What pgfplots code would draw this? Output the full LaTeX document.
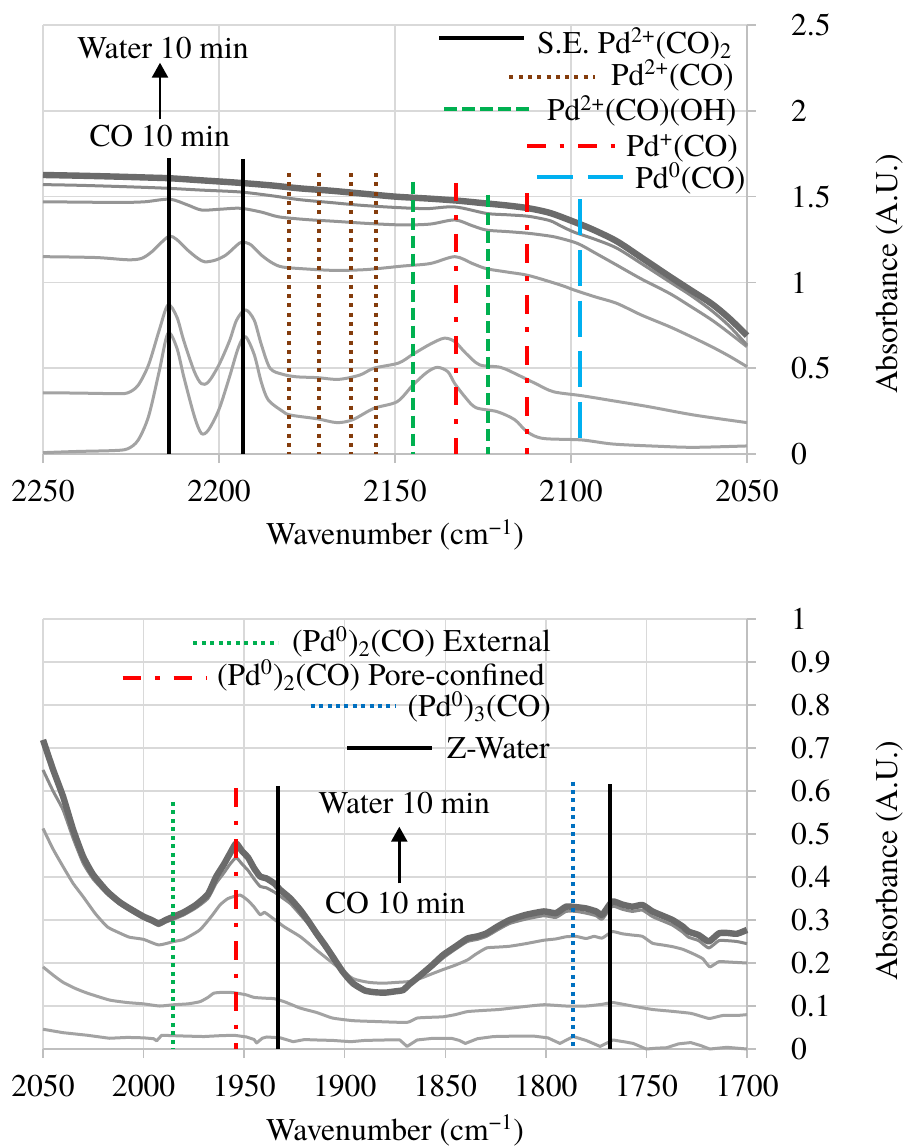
\documentclass[border=0pt]{standalone}
\usepackage{fontspec}
\IfFontExistsTF{TeX Gyre Termes}{\setmainfont{TeX Gyre Termes}}{\setmainfont{Latin Modern Roman}}
\usepackage{pgfplots}
\pgfplotsset{compat=1.18}
\usetikzlibrary{arrows.meta}
\definecolor{gridc}{HTML}{D9D9D9}
\definecolor{axc}{HTML}{BFBFBF}
\definecolor{brownc}{HTML}{843C0C}
\definecolor{greenc}{HTML}{00B050}
\definecolor{redc}{HTML}{FF0000}
\definecolor{lblue}{HTML}{00B0F0}
\definecolor{dblue}{HTML}{0070C0}
\definecolor{gA}{HTML}{6B6B6B}
\definecolor{gB}{HTML}{8A8A8A}
\definecolor{gC}{HTML}{959595}
\definecolor{gD}{HTML}{9E9E9E}
\definecolor{gE}{HTML}{A3A3A3}
\newcommand{\fs}{\rmfamily\fontsize{15.8}{19}\selectfont}
\pgfplotsset{
  spec/.style={
    scale only axis, width=352pt,
    x dir=reverse,
    axis x line=bottom, axis y line=right,
    axis line style={draw=axc, line width=0.75pt, -},
    grid=major, grid style={draw=gridc, line width=0.75pt},
    tick style={draw=axc, line width=0.75pt},
    tick align=outside, major tick length=4.5pt,
    /pgf/number format/assume math mode=true,
    /pgf/number format/set thousands separator={},
    ticklabel style={font=\fs},
    yticklabel style={anchor=west, xshift=14pt},
    xticklabel style={yshift=-5pt},
    label style={font=\fs},
    clip=false,
  },
  crv/.style={line width=1.5pt, no markers, line join=round},
  vblack/.style={draw=black, line width=2pt, no markers},
  vbrown/.style={draw=brownc, line width=2pt, dash pattern=on 2pt off 2.65pt, no markers},
  vgreen/.style={draw=greenc, line width=2pt, dash pattern=on 6.3pt off 2.7pt, no markers},
  vred/.style={draw=redc, line width=2pt, dash pattern=on 9.2pt off 6.9pt on 2.3pt off 7.1pt, no markers},
  vlblue/.style={draw=lblue, line width=2pt, dash pattern=on 18pt off 7.3pt, no markers},
  vgdot/.style={draw=greenc, line width=2pt, dash pattern=on 2pt off 2.25pt, no markers},
  vbdot/.style={draw=dblue, line width=2pt, dash pattern=on 2pt off 2.2pt, no markers},
}
\begin{document}
\begin{tikzpicture}
\useasboundingbox (0,0) rectangle (454pt,-573.5pt);
% ---------------- top panel ----------------
\begin{axis}[spec, at={(21.5pt,-227pt)}, anchor=south west, height=214.5pt,
  xmin=2050, xmax=2250, ymin=0, ymax=2.5,
  xtick={2050,2100,2150,2200,2250}, ytick={0,0.5,1,1.5,2,2.5},
  xlabel={Wavenumber (cm\textsuperscript{−1})},
  xlabel style={at={(axis description cs:0.5,-0.2121)}, anchor=base},
  ylabel={Absorbance (A.U.)},
  ylabel style={at={(axis description cs:1.2031,0.4196)}, anchor=center, rotate=0},
]
\addplot[crv, smooth, draw=gE] coordinates {(2250,0.008) (2240,0.015) (2230,0.020) (2226,0.030) (2223,0.080) (2220,0.220) (2217,0.480) (2214.5,0.703) (2212,0.620) (2210,0.450) (2207,0.220) (2205,0.120) (2203,0.140) (2200,0.260) (2197,0.450) (2194.5,0.620) (2192.5,0.684) (2190,0.580) (2188,0.420) (2186,0.315) (2182,0.250) (2179.7,0.227) (2172,0.205) (2166.5,0.183) (2162,0.200) (2156,0.266) (2149.4,0.305) (2145,0.400) (2141,0.475) (2138,0.505) (2135,0.480) (2133,0.410) (2130,0.330) (2127,0.270) (2121,0.247) (2116,0.200) (2112.5,0.130) (2108,0.091) (2097,0.082) (2088,0.058) (2075,0.045) (2065,0.039) (2050,0.047)};
\addplot[crv, smooth, draw=gE] coordinates {(2250,0.357) (2240,0.355) (2230,0.352) (2226,0.356) (2223,0.400) (2220,0.520) (2217,0.720) (2214.5,0.868) (2212,0.800) (2210,0.660) (2207,0.480) (2205,0.410) (2203,0.420) (2200,0.520) (2197,0.660) (2195,0.780) (2192.5,0.840) (2190,0.780) (2188,0.640) (2185.5,0.500) (2182,0.465) (2178,0.450) (2172,0.445) (2166,0.435) (2160,0.460) (2156,0.500) (2149,0.530) (2145,0.580) (2140,0.640) (2136,0.675) (2133,0.655) (2130,0.590) (2126,0.520) (2120,0.505) (2115,0.460) (2110,0.410) (2105,0.363) (2097,0.340) (2088,0.310) (2078,0.276) (2065,0.227) (2050,0.183)};
\addplot[crv, smooth, draw=gD] coordinates {(2250,1.150) (2235,1.145) (2226,1.132) (2222,1.140) (2219,1.180) (2216,1.240) (2214,1.270) (2212,1.250) (2209,1.190) (2206,1.140) (2204,1.120) (2201,1.130) (2198,1.160) (2195,1.215) (2193.5,1.235) (2191,1.220) (2188,1.160) (2185,1.115) (2182,1.090) (2175,1.078) (2167,1.070) (2158,1.075) (2148,1.095) (2140,1.110) (2133,1.150) (2128,1.110) (2124,1.080) (2118,1.060) (2112,1.040) (2103,0.985) (2099,0.955) (2093,0.915) (2087,0.878) (2080,0.810) (2072,0.742) (2066,0.685) (2060,0.625) (2055,0.570) (2050,0.509)};
\addplot[crv, smooth, draw=gC] coordinates {(2250,1.470) (2240,1.468) (2228,1.466) (2221,1.470) (2214,1.485) (2209,1.452) (2205,1.422) (2200,1.426) (2194,1.432) (2188,1.410) (2183,1.382) (2175,1.366) (2167,1.356) (2158,1.344) (2148,1.335) (2140,1.340) (2133,1.364) (2128,1.330) (2124,1.305) (2118,1.296) (2112,1.286) (2106,1.270) (2103,1.257) (2098,1.226) (2093,1.170) (2087,1.101) (2080,1.020) (2072,0.936) (2066,0.860) (2060,0.781) (2055,0.705) (2050,0.625)};
\addplot[crv, smooth, draw=gB] coordinates {(2250,1.570) (2240,1.566) (2230,1.560) (2220,1.553) (2214,1.548) (2205,1.538) (2194,1.527) (2185,1.505) (2177,1.482) (2168,1.465) (2160,1.450) (2150,1.437) (2141,1.430) (2133,1.440) (2124,1.402) (2118,1.394) (2112,1.385) (2106,1.360) (2103,1.330) (2099,1.292) (2093,1.250) (2087,1.200) (2080,1.110) (2072,1.004) (2066,0.925) (2060,0.835) (2055,0.745) (2050,0.635)};
\addplot[crv, smooth, draw=gA, line width=3.2pt] coordinates {(2250,1.626) (2240,1.622) (2230,1.617) (2220,1.611) (2214,1.607) (2205,1.595) (2194,1.580) (2185,1.565) (2177,1.548) (2168,1.534) (2160,1.519) (2150,1.500) (2140,1.488) (2132,1.476) (2125,1.462) (2118,1.448) (2112,1.432) (2106,1.405) (2100,1.360) (2094,1.310) (2087,1.240) (2080,1.145) (2072,1.035) (2066,0.955) (2060,0.875) (2055,0.790) (2050,0.690)};
% reference lines
\addplot[vblack] coordinates {(2214.1,1.725) (2214.1,0)};
\addplot[vblack] coordinates {(2193.3,1.72) (2193.3,0)};
\addplot[vbrown] coordinates {(2180,1.637) (2180,0)};
\addplot[vbrown] coordinates {(2171.5,1.637) (2171.5,0)};
\addplot[vbrown] coordinates {(2162.6,1.637) (2162.6,0)};
\addplot[vbrown] coordinates {(2155.3,1.637) (2155.3,0)};
\addplot[vgreen] coordinates {(2144.9,1.587) (2144.9,0)};
\addplot[vgreen] coordinates {(2123.7,1.51) (2123.7,0)};
\addplot[vred] coordinates {(2132.8,1.58) (2132.8,0)};
\addplot[vred] coordinates {(2112.4,1.52) (2112.4,0)};
\addplot[vlblue] coordinates {(2097.4,1.484) (2097.4,0.08)};
\end{axis}
% ---------------- bottom panel ----------------
\begin{axis}[spec, at={(21.5pt,-524.5pt)}, anchor=south west, height=215pt,
  xmin=1700, xmax=2050, ymin=0, ymax=1,
  xtick={1700,1750,1800,1850,1900,1950,2000,2050},
  ytick={0,0.1,0.2,0.3,0.4,0.5,0.6,0.7,0.8,0.9,1},
  xlabel={Wavenumber (cm\textsuperscript{−1})},
  xlabel style={at={(axis description cs:0.5,-0.2116)}, anchor=base},
  ylabel={Absorbance (A.U.)},
  ylabel style={at={(axis description cs:1.2031,0.4372)}, anchor=center, rotate=0},
]
\addplot[crv, draw=gE] coordinates {(2050,0.046) (2040,0.038) (2028,0.032) (2017,0.025) (2008,0.027) (2000,0.026) (1995,0.024) (1993.5,0.019) (1991,0.032) (1985,0.031) (1978.6,0.030) (1970,0.029) (1962,0.031) (1955,0.032) (1948.8,0.028) (1945,0.022) (1943.8,0.014) (1941,0.025) (1938.8,0.028) (1932,0.026) (1925.6,0.017) (1920,0.022) (1914,0.021) (1906,0.020) (1897,0.017) (1890,0.020) (1880,0.021) (1872.6,0.021) (1869,0.006) (1864,0.021) (1856,0.025) (1847,0.025) (1843,0.020) (1840,0.013) (1834,0.024) (1826,0.029) (1815,0.030) (1806,0.030) (1799,0.026) (1793,0.013) (1786.4,0.029) (1780,0.020) (1773,0.006) (1766.6,0.021) (1760,0.016) (1756.6,0.013) (1750,0.000) (1745,0.002) (1740,0.003) (1734,0.012) (1728,0.015) (1723,0.008) (1718.5,0.000) (1710,0.004) (1705,0.002) (1700,0.000)};
\addplot[crv, smooth, tension=0.3, draw=gE] coordinates {(2050,0.191) (2045,0.172) (2040,0.155) (2034,0.141) (2028,0.130) (2017,0.114) (2008,0.108) (2000,0.105) (1992,0.100) (1985,0.103) (1978,0.105) (1972,0.110) (1968,0.120) (1965,0.130) (1960,0.132) (1955,0.131) (1949,0.126) (1945,0.120) (1939,0.118) (1935,0.117) (1930,0.110) (1922,0.095) (1914,0.085) (1906,0.072) (1896,0.066) (1885,0.064) (1869,0.062) (1864,0.072) (1856,0.074) (1851,0.075) (1845,0.080) (1839,0.087) (1830,0.090) (1823,0.092) (1812,0.098) (1801,0.103) (1790,0.100) (1780,0.100) (1772,0.104) (1766.6,0.108) (1757,0.100) (1747,0.092) (1738,0.088) (1728,0.083) (1722,0.075) (1718.5,0.071) (1712,0.078) (1705,0.078) (1700,0.080)};
\addplot[crv, smooth, tension=0.3, draw=gD] coordinates {(2050,0.513) (2045,0.465) (2040,0.424) (2035,0.385) (2030,0.354) (2024,0.315) (2018,0.284) (2012,0.270) (2007,0.260) (2000,0.255) (1992.5,0.242) (1985,0.250) (1980,0.255) (1972,0.277) (1966,0.310) (1962,0.335) (1958,0.350) (1952,0.358) (1948,0.345) (1945,0.330) (1942,0.312) (1940,0.318) (1938,0.312) (1934,0.298) (1930,0.284) (1922,0.261) (1914,0.230) (1906,0.200) (1896,0.164) (1888,0.155) (1881,0.153) (1874,0.155) (1868,0.157) (1862,0.165) (1856,0.176) (1851,0.185) (1845,0.195) (1839,0.207) (1835,0.220) (1829.5,0.235) (1824,0.237) (1818,0.239) (1810,0.245) (1801,0.253) (1795,0.256) (1790,0.261) (1785,0.262) (1780,0.257) (1776,0.262) (1772,0.258) (1767,0.273) (1762,0.268) (1757,0.265) (1752,0.262) (1747,0.246) (1742,0.242) (1737,0.238) (1732,0.232) (1727,0.222) (1722,0.210) (1718.5,0.191) (1714,0.203) (1708,0.202) (1700,0.200)};
\addplot[crv, smooth, tension=0.3, draw=gB] coordinates {(2050,0.649) (2045,0.600) (2040,0.556) (2035,0.490) (2030,0.432) (2025,0.395) (2018,0.360) (2012,0.337) (2007,0.322) (2000,0.303) (1996,0.295) (1992.5,0.287) (1989,0.295) (1985,0.302) (1980,0.312) (1974,0.328) (1968,0.350) (1964,0.385) (1960,0.410) (1957,0.430) (1954,0.445) (1951,0.430) (1948,0.415) (1945,0.395) (1942,0.378) (1939,0.375) (1935,0.365) (1932,0.355) (1927,0.338) (1922,0.312) (1918,0.290) (1914,0.262) (1910,0.237) (1906,0.210) (1901,0.176) (1896,0.150) (1890,0.134) (1885,0.130) (1880,0.129) (1875,0.132) (1871,0.135) (1868,0.148) (1864,0.162) (1857,0.188) (1851,0.212) (1845,0.232) (1839,0.250) (1834,0.255) (1829.5,0.262) (1824,0.277) (1818,0.292) (1810,0.302) (1801,0.310) (1795,0.306) (1790,0.320) (1785,0.320) (1780,0.316) (1775,0.310) (1772,0.302) (1767,0.332) (1762,0.325) (1757,0.320) (1752,0.323) (1747,0.308) (1742,0.298) (1737,0.288) (1732,0.272) (1729,0.260) (1724,0.252) (1719,0.235) (1714,0.252) (1710,0.252) (1705,0.250) (1700,0.245)};
\addplot[crv, smooth, tension=0.3, draw=gA, line width=3.2pt] coordinates {(2050,0.719) (2045,0.650) (2040,0.587) (2035,0.510) (2030,0.447) (2025,0.405) (2018,0.366) (2012,0.342) (2007,0.327) (2000,0.308) (1996,0.300) (1992.5,0.292) (1989,0.300) (1985,0.308) (1980,0.318) (1974,0.335) (1968,0.360) (1964,0.400) (1960,0.430) (1957,0.455) (1954,0.478) (1951,0.460) (1948,0.445) (1945,0.420) (1942,0.401) (1939,0.397) (1935,0.385) (1932,0.370) (1927,0.350) (1922,0.323) (1918,0.297) (1914,0.269) (1910,0.243) (1906,0.215) (1901,0.180) (1896,0.153) (1890,0.136) (1885,0.132) (1880,0.131) (1875,0.134) (1871,0.137) (1868,0.150) (1864,0.165) (1857,0.193) (1851,0.219) (1845,0.238) (1839,0.257) (1834,0.262) (1829.5,0.269) (1824,0.285) (1818,0.300) (1810,0.312) (1801,0.320) (1795,0.316) (1790,0.331) (1785,0.330) (1780,0.327) (1775,0.320) (1772,0.312) (1767,0.343) (1762,0.336) (1757,0.331) (1752,0.335) (1747,0.320) (1742,0.310) (1737,0.300) (1732,0.285) (1729,0.273) (1724,0.265) (1719,0.250) (1714,0.269) (1710,0.270) (1705,0.268) (1700,0.277)};
% reference lines
\addplot[vgdot] coordinates {(1985.5,0.575) (1985.5,0)};
\addplot[vred] coordinates {(1954.1,0.606) (1954.1,0)};
\addplot[vblack] coordinates {(1933.4,0.612) (1933.4,0)};
\addplot[vbdot] coordinates {(1786.4,0.622) (1786.4,0)};
\addplot[vblack] coordinates {(1768.2,0.616) (1768.2,0)};
\end{axis}
% ---------------- legends and annotations (pixel frame) ----------------
\begin{scope}[x=0.5pt, y=-0.5pt, every node/.style={font=\fs, inner sep=0pt, anchor=base west}]
  % top legend
  \draw[black, line width=2pt] (439,38.3) -- (524,38.3);
  \node at (536.7,53.3) {S.E. Pd\textsuperscript{2+}(CO)\textsubscript{2}};
  \draw[brownc, line width=2pt, dash pattern=on 2pt off 2.65pt] (509.3,76.7) -- (595,76.7);
  \node at (610.7,85) {Pd\textsuperscript{2+}(CO)};
  \draw[greenc, line width=2pt, dash pattern=on 6.3pt off 2.7pt] (444.3,109) -- (529.3,109);
  \node at (546.7,120.7) {Pd\textsuperscript{2+}(CO)(OH)};
  \draw[redc, line width=2pt, dash pattern=on 9.2pt off 6.9pt on 2.3pt off 7.1pt] (527.3,145.7) -- (616,145.7);
  \node at (626,156) {Pd\textsuperscript{+}(CO)};
  \draw[lblue, line width=2pt, dash pattern=on 18pt off 7.3pt] (537.3,176.7) -- (622.7,176.7);
  \node at (635,188.3) {Pd\textsuperscript{0}(CO)};
  % top annotation
  \node at (77,58.3) {Water 10 min};
  \draw[black, line width=1.3pt, -{Triangle[width=8pt,length=7.5pt]}] (160,119.3) -- (160,62.7);
  \node at (89.3,146.7) {CO 10 min};
  % bottom legend
  \draw[greenc, line width=2pt, dash pattern=on 2pt off 2.25pt] (193.3,643.3) -- (278.3,643.3);
  \node at (291.7,651.7) {(Pd\textsuperscript{0})\textsubscript{2}(CO) External};
  \draw[redc, line width=2pt, dash pattern=on 9.2pt off 6.9pt on 2.3pt off 7.1pt] (122.7,677.7) -- (207.3,677.7);
  \node at (216.7,685) {(Pd\textsuperscript{0})\textsubscript{2}(CO) Pore-confined};
  \draw[dblue, line width=2pt, dash pattern=on 2pt off 2.2pt] (310.7,706) -- (395,706);
  \node at (407.3,716.7) {(Pd\textsuperscript{0})\textsubscript{3}(CO)};
  \draw[black, line width=2pt] (347.3,747.7) -- (432.3,747.7);
  \node at (446.7,758.3) {Z-Water};
  % bottom annotation
  \node at (318.3,813.3) {Water 10 min};
  \draw[black, line width=1.3pt, -{Triangle[width=8pt,length=7.5pt]}] (399.3,883.3) -- (399.3,826.7);
  \node at (325,913.3) {CO 10 min};
\end{scope}
\end{tikzpicture}
\end{document}
